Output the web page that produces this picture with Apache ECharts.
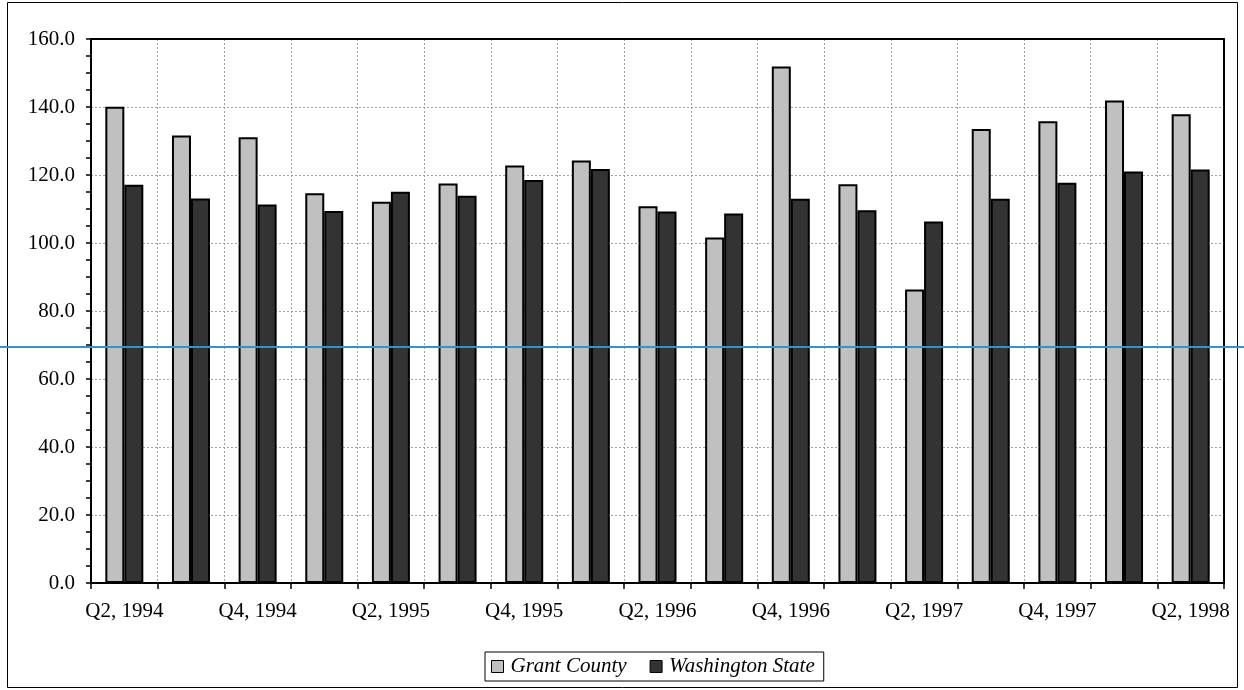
<!DOCTYPE html>
<html>
<head>
<meta charset="utf-8">
<script src="https://cdn.jsdelivr.net/npm/echarts@6/dist/echarts.min.js"></script>
<style>
  html, body { margin: 0; padding: 0; background: #fff; }
  #chart { width: 1244px; height: 690px; }
</style>
</head>
<body>
<div id="chart"></div>
<script>
// Quarterly index values, Q2 1994 through Q2 1998
const quarters = [
  'Q2, 1994', 'Q3, 1994', 'Q4, 1994', 'Q1, 1995', 'Q2, 1995', 'Q3, 1995',
  'Q4, 1995', 'Q1, 1996', 'Q2, 1996', 'Q3, 1996', 'Q4, 1996', 'Q1, 1997',
  'Q2, 1997', 'Q3, 1997', 'Q4, 1997', 'Q1, 1998', 'Q2, 1998'
];
const grantCounty = [
  140.1, 131.6, 131.1, 114.6, 112.1, 117.5, 122.8, 124.3, 110.8,
  101.6, 151.9, 117.3, 86.3, 133.5, 135.8, 141.9, 137.9
];
const washingtonState = [
  117.1, 113.1, 111.3, 109.4, 115.1, 113.9, 118.5, 121.8, 109.3,
  108.7, 113.0, 109.6, 106.3, 113.0, 117.7, 121.0, 121.6
];
const yTicks = { min: 0, max: 160, step: 20 };
const referenceLevel = 69.5;

const serif = '"Liberation Serif", "Times New Roman", serif';

const chart = echarts.init(document.getElementById('chart'), null, { renderer: 'canvas' });

// Plain axis used only to close the plot frame on the top and right sides
const frameAxis = {
  z: 5,
  axisLine: { show: true, onZero: false, lineStyle: { color: '#000', width: 2 } },
  axisTick: { show: false },
  axisLabel: { show: false },
  splitLine: { show: false }
};

chart.setOption({
  animation: false,
  backgroundColor: '#fff',
  textStyle: { fontFamily: serif, color: '#000' },
  grid: { left: 91, right: 20, top: 39, bottom: 107 },
  legend: {
    left: 485, top: 652,
    padding: [4, 9, 4, 6],
    borderColor: '#000', borderWidth: 1,
    itemWidth: 12, itemHeight: 12, itemGap: 23,
    icon: 'rect',
    itemStyle: { borderColor: '#000', borderWidth: 1 },
    textStyle: { fontFamily: serif, fontStyle: 'italic', fontSize: 21, color: '#000', padding: [0, 0, 0, 2] },
    data: ['Grant County', 'Washington State']
  },
  xAxis: [
    {
      type: 'category',
      data: quarters,
      boundaryGap: true,
      axisLine: { lineStyle: { color: '#000', width: 2 } },
      axisTick: { show: true, interval: 0, length: 6, lineStyle: { color: '#000', width: 1.5 } },
      axisLabel: { interval: 1, margin: 18, fontFamily: serif, fontSize: 21, color: '#000' },
      splitLine: { show: true, interval: 0, lineStyle: { color: '#a0a0a0', width: 1, type: [2, 2] } }
    },
    Object.assign({ type: 'category', data: quarters, position: 'top' }, frameAxis)
  ],
  yAxis: [
    {
      type: 'value',
      min: yTicks.min, max: yTicks.max, interval: yTicks.step,
      axisLine: { show: true, lineStyle: { color: '#000', width: 2 } },
      axisTick: { show: true, length: 5, lineStyle: { color: '#000', width: 1.5 } },
      minorTick: { show: true, splitNumber: 4, length: 5, lineStyle: { color: '#000', width: 1.5 } },
      axisLabel: {
        margin: 16, fontFamily: serif, fontSize: 21, color: '#000',
        formatter: v => v.toFixed(1)
      },
      splitLine: { show: true, lineStyle: { color: '#a0a0a0', width: 1, type: [2, 2] } }
    },
    Object.assign({
      type: 'value', position: 'right',
      min: yTicks.min, max: yTicks.max, interval: yTicks.step
    }, frameAxis)
  ],
  series: [
    {
      name: 'Grant County', type: 'bar', data: grantCounty,
      barWidth: 19, barGap: '0%',
      itemStyle: { color: '#c0c0c0', borderColor: '#000', borderWidth: 2 }
    },
    {
      name: 'Washington State', type: 'bar', data: washingtonState,
      barWidth: 19,
      itemStyle: { color: '#333333', borderColor: '#000', borderWidth: 2 }
    }
  ]
});

// Outer frame around the whole chart, plus a full-width reference rule
const refY = chart.convertToPixel({ yAxisIndex: 0 }, referenceLevel);
chart.setOption({
  graphic: [
    {
      type: 'rect', silent: true, z: 100,
      shape: { x: 7.5, y: 2.5, width: 1230, height: 685 },
      style: { fill: 'none', stroke: '#000', lineWidth: 1 }
    },
    {
      type: 'line', silent: true, z: 101,
      shape: { x1: 0, y1: Math.round(refY), x2: 1244, y2: Math.round(refY) },
      style: { stroke: '#3592cc', lineWidth: 2 }
    }
  ]
});
</script>
</body>
</html>
